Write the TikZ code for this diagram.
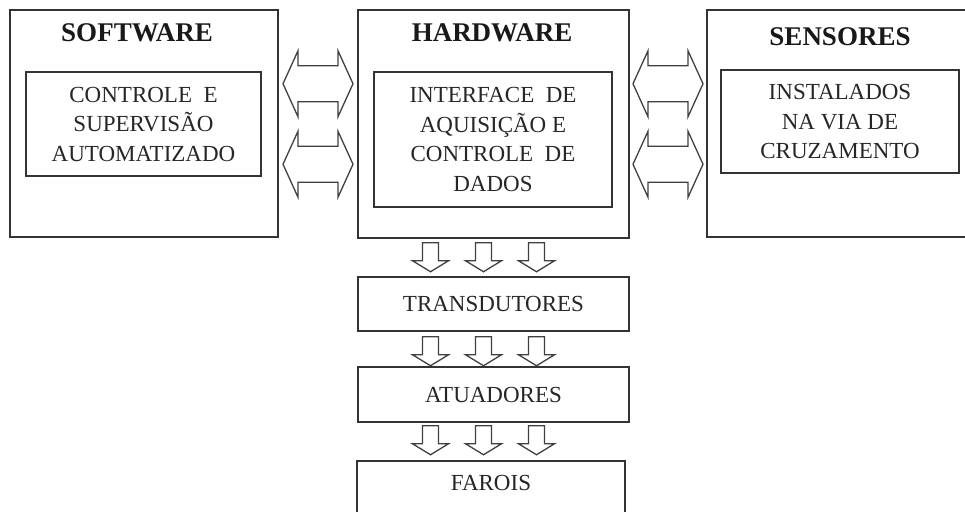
\documentclass[tikz,border=0pt]{standalone}
\usepackage{fontspec}
\setmainfont{Liberation Serif}
\usetikzlibrary{calc}
\tikzset{
  dblarrow/.pic={\draw[blockarrow] (-35,0) -- (-20,-33) -- (-20,-18) -- (20,-18) -- (20,-33) -- (35,0) -- (20,33) -- (20,18) -- (-20,18) -- (-20,33) -- cycle;},
  downarrow/.pic={\draw[blockarrow] (-8,0) -- (8,0) -- (8,18) -- (18,18) -- (0,29) -- (-18,18) -- (-8,18) -- cycle;}
}
\begin{document}
\begin{tikzpicture}[x=1pt, y=-1pt, line join=miter,
    box/.style={draw=black!80, line width=1.5pt, inner sep=0pt},
    boxtext/.style={font=\fontsize{23}{29.5}\selectfont, align=center, text=black!85},
    heading/.style={font=\fontsize{27}{30}\selectfont\bfseries, text=black!90},
    blockarrow/.style={draw=black!75, line width=1.3pt, fill=white}]
  \useasboundingbox (0,0) rectangle (965,511);
  \clip (0,0) rectangle (965,511);
  \fill[white] (0,0) rectangle (965,511);
  % upper blocks
  \node[box, minimum width=268pt, minimum height=227pt] (sw) at (144,123.5) {};
  \node[box, minimum width=271pt, minimum height=228pt] (hw) at (493.5,124) {};
  \node[box, minimum width=268pt, minimum height=227pt] (sen) at (841,123.5) {};
  \node[heading] (swtitle) at (137,33) {SOFTWARE};
  \node[heading] (hwtitle) at (492,33) {HARDWARE};
  \node[heading] (sentitle) at (840,37) {SENSORES};
  \node[box, boxtext, minimum width=235pt, minimum height=104pt] (swin) at (143.5,124)
    {CONTROLE\ \ E\\SUPERVISÃO\\AUTOMATIZADO};
  \node[box, boxtext, minimum width=238pt, minimum height=135pt] (hwin) at (493,139.5)
    {INTERFACE\ \ DE\\AQUISIÇÃO E\\CONTROLE\ \ DE\\DADOS};
  \node[box, boxtext, minimum width=238pt, minimum height=103pt] (senin) at (840,121.5)
    {INSTALADOS\\NA VIA DE\\CRUZAMENTO};
  % lower chain
  \node[box, boxtext, minimum width=271pt, minimum height=54pt] (trans) at (493.5,304) {TRANSDUTORES};
  \node[box, boxtext, minimum width=271pt, minimum height=55pt] (atu) at (493.5,394.5) {ATUADORES};
  \node[box, minimum width=268pt, minimum height=70pt, anchor=north] (far) at (491,460) {};
  \node[boxtext] (fartext) at ([yshift=-23pt]far.north) {FAROIS};
  % block arrows
  \foreach \dy in {-40,40.5} {
    \pic at ($(sw.east)!.5!(hw.west)+(0,\dy)$) {dblarrow};
    \pic at ($(hw.east)!.5!(sen.west)+(0,\dy)$) {dblarrow};
  }
  \foreach \a/\b/\gap in {hw/trans/4, trans/atu/5, atu/far/3}
    \foreach \dx in {-63,-10,43}
      \pic at ($(\a.south)+(\dx,\gap)$) {downarrow};
\end{tikzpicture}
\end{document}
